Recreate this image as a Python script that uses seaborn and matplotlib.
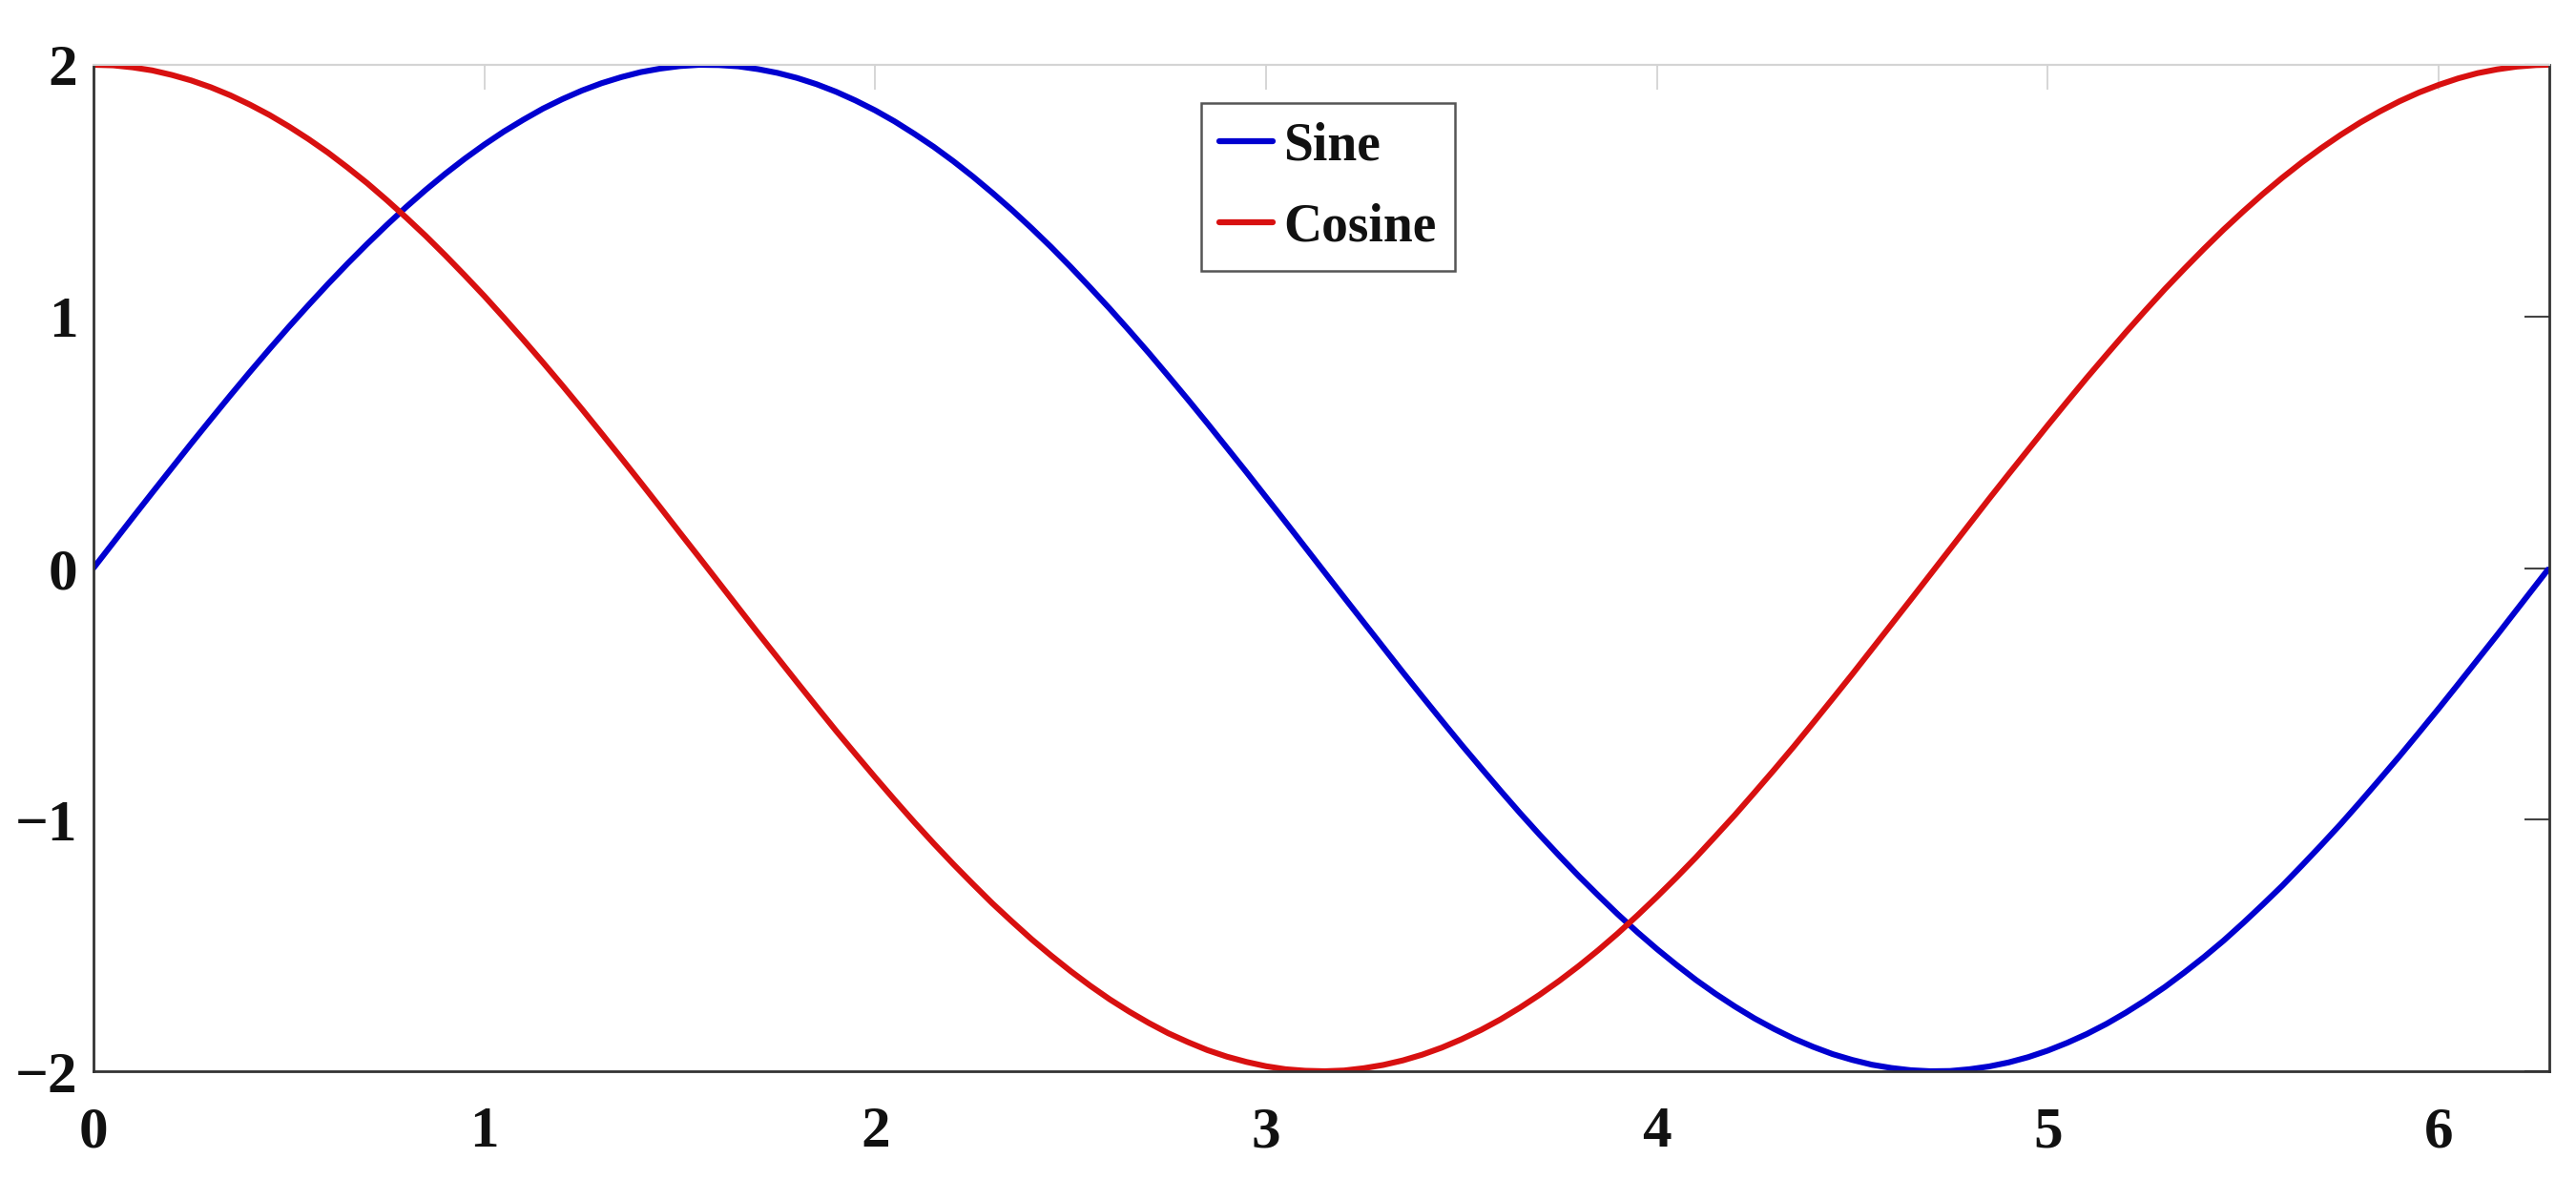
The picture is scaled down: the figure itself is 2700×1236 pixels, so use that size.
import numpy as np
import pandas as pd
import seaborn as sns
import matplotlib.pyplot as plt

# values (x in radians)
x_vals = [0.00, 0.05, 0.10, 0.15, 0.20, 0.25, 0.30, 0.35, 0.40, 0.45,
          0.50, 0.55, 0.60, 0.65, 0.70, 0.75, 0.80, 0.85, 0.90, 0.95,
          1.00, 1.05, 1.10, 1.15, 1.20, 1.25, 1.30, 1.35, 1.40, 1.45,
          1.50, 1.55, 1.60, 1.65, 1.70, 1.75, 1.80, 1.85, 1.90, 1.95,
          2.00, 2.05, 2.10, 2.15, 2.20, 2.25, 2.30, 2.35, 2.40, 2.45,
          2.50, 2.55, 2.60, 2.65, 2.70, 2.75, 2.80, 2.85, 2.90, 2.95,
          3.00, 3.05, 3.10, 3.15, 3.20, 3.25, 3.30, 3.35, 3.40, 3.45,
          3.50, 3.55, 3.60, 3.65, 3.70, 3.75, 3.80, 3.85, 3.90, 3.95,
          4.00, 4.05, 4.10, 4.15, 4.20, 4.25, 4.30, 4.35, 4.40, 4.45,
          4.50, 4.55, 4.60, 4.65, 4.70, 4.75, 4.80, 4.85, 4.90, 4.95,
          5.00, 5.05, 5.10, 5.15, 5.20, 5.25, 5.30, 5.35, 5.40, 5.45,
          5.50, 5.55, 5.60, 5.65, 5.70, 5.75, 5.80, 5.85, 5.90, 5.95,
          6.00, 6.05, 6.10, 6.15, 6.20, 6.25, 6.28]

sine_vals = [0.000, 0.100, 0.200, 0.299, 0.397, 0.495, 0.591, 0.686, 0.779, 0.870,
             0.959, 1.045, 1.129, 1.210, 1.288, 1.363, 1.435, 1.503, 1.567, 1.627,
             1.683, 1.735, 1.782, 1.826, 1.864, 1.898, 1.927, 1.951, 1.971, 1.985,
             1.995, 2.000, 1.999, 1.994, 1.983, 1.968, 1.948, 1.923, 1.893, 1.858,
             1.819, 1.775, 1.726, 1.674, 1.617, 1.556, 1.491, 1.423, 1.351, 1.276,
             1.197, 1.115, 1.031, 0.944, 0.855, 0.763, 0.670, 0.575, 0.478, 0.381,
             0.282, 0.183, 0.083, -0.017, -0.117, -0.216, -0.315, -0.414, -0.511, -0.607,
             -0.702, -0.794, -0.885, -0.974, -1.060, -1.143, -1.224, -1.301, -1.376, -1.447,
             -1.514, -1.577, -1.637, -1.692, -1.743, -1.790, -1.832, -1.870, -1.903, -1.932,
             -1.955, -1.974, -1.987, -1.996, -2.000, -1.999, -1.992, -1.981, -1.965, -1.944,
             -1.918, -1.887, -1.852, -1.812, -1.767, -1.718, -1.665, -1.607, -1.546, -1.481,
             -1.411, -1.338, -1.263, -1.183, -1.101, -1.017, -0.929, -0.839, -0.748, -0.654,
             -0.559, -0.462, -0.364, -0.266, -0.166, -0.066, -0.006]

cosine_vals = [2.000, 1.998, 1.990, 1.978, 1.960, 1.938, 1.911, 1.879, 1.842, 1.801,
               1.755, 1.705, 1.651, 1.592, 1.530, 1.463, 1.393, 1.320, 1.243, 1.163,
               1.081, 0.995, 0.907, 0.817, 0.725, 0.631, 0.535, 0.438, 0.340, 0.241,
               0.141, 0.042, -0.058, -0.158, -0.258, -0.356, -0.454, -0.551, -0.647, -0.740,
               -0.832, -0.922, -1.010, -1.095, -1.177, -1.256, -1.333, -1.405, -1.475, -1.540,
               -1.602, -1.660, -1.714, -1.763, -1.808, -1.849, -1.884, -1.916, -1.942, -1.963,
               -1.980, -1.992, -1.998, -2.000, -1.997, -1.988, -1.975, -1.957, -1.934, -1.906,
               -1.873, -1.836, -1.794, -1.747, -1.696, -1.641, -1.582, -1.519, -1.452, -1.381,
               -1.307, -1.230, -1.150, -1.066, -0.981, -0.892, -0.802, -0.710, -0.615, -0.519,
               -0.422, -0.323, -0.224, -0.125, -0.025, 0.075, 0.175, 0.275, 0.373, 0.470,
               0.567, 0.662, 0.756, 0.847, 0.937, 1.024, 1.109, 1.190, 1.269, 1.345,
               1.417, 1.486, 1.551, 1.612, 1.669, 1.722, 1.771, 1.815, 1.855, 1.890,
               1.920, 1.946, 1.967, 1.982, 1.993, 1.999, 2.000]

series_names = ['Sine', 'Cosine']
x_ticks = [0, 1, 2, 3, 4, 5, 6]
y_ticks = [-2, -1, 0, 1, 2]

df = pd.DataFrame({
    'x': x_vals * 2,
    'y': sine_vals + cosine_vals,
    'curve': ['Sine'] * len(x_vals) + ['Cosine'] * len(x_vals),
})

sns.set_theme(style='white')
plt.rcParams['font.family'] = ['Liberation Serif', 'DejaVu Serif']
plt.rcParams['font.weight'] = 'bold'

fig = plt.figure(figsize=(27, 12.36), dpi=100)
ax = fig.add_axes([0.0363, 0.0914, 0.9533, 0.8536])

sns.lineplot(data=df, x='x', y='y', hue='curve', hue_order=series_names,
             palette={'Sine': '#0000d0', 'Cosine': '#d81010'},
             ax=ax, sort=False)
for line in ax.get_lines():
    line.set_linewidth(4.4)
    line.set_solid_joinstyle('round')

ax.set_xlim(0, 6.2832)
ax.set_ylim(-2, 2)
ax.set_xticks(x_ticks)
ax.set_yticks(y_ticks)
ax.set_xticklabels([str(t) for t in x_ticks])
ax.set_yticklabels([str(t).replace('-', '\u2212') for t in y_ticks])
ax.set_xlabel('')
ax.set_ylabel('')

ax.tick_params(axis='both', direction='in', length=19, width=1.5,
               color='#444444', labelsize=44, labelcolor='#111111',
               top=False, right=True)
ax.tick_params(axis='x', pad=26)
ax.tick_params(axis='y', pad=12)
for lab in ax.get_xticklabels() + ax.get_yticklabels():
    lab.set_fontweight('bold')

# faint ticks along the top edge
top = ax.secondary_xaxis('top')
top.set_xticks(x_ticks)
top.tick_params(direction='in', length=19, width=1.2, color='#d0d0d0',
                labeltop=False)
top.spines['top'].set_color('#d4d4d4')
top.spines['top'].set_linewidth(1.5)

for side in ['left', 'bottom', 'right']:
    ax.spines[side].set_color('#333333')
    ax.spines[side].set_linewidth(2.0)
ax.spines['top'].set_color('#d4d4d4')
ax.spines['top'].set_linewidth(1.5)

leg = ax.legend(loc='upper left', bbox_to_anchor=(0.451, 0.962),
                borderaxespad=0, handlelength=1.0,
                handletextpad=0.2, labelspacing=0.6, borderpad=0.35,
                fancybox=False, framealpha=1, edgecolor='#555555',
                prop={'weight': 'bold', 'size': 40})
leg.get_frame().set_linewidth(1.8)
for line in leg.get_lines():
    line.set_linewidth(4.5)
for txt in leg.get_texts():
    txt.set_color('#111111')

fig.savefig('out.png', dpi=100, facecolor='white')
